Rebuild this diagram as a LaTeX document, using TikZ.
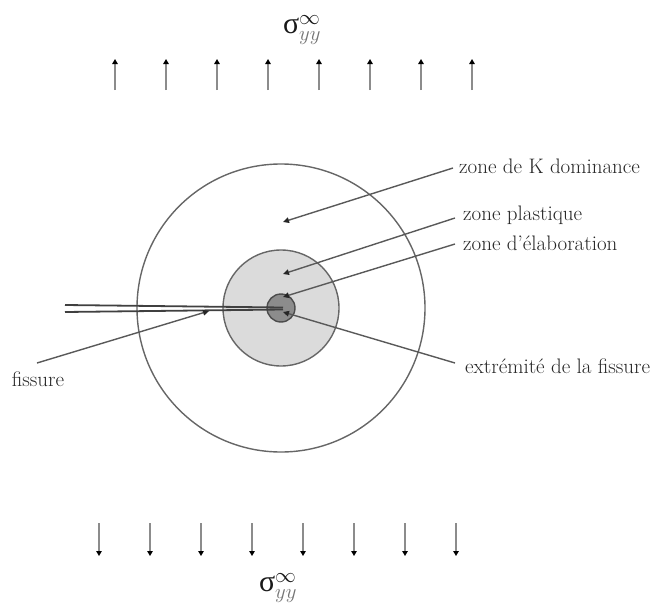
\documentclass[tikz,border=0pt]{standalone}
\usepackage{fontspec}
\newfontfamily\grkfont{Liberation Serif}
\usetikzlibrary{arrows.meta}
\begin{document}
\begin{tikzpicture}[x=1pt,y=-1pt,
  lbl/.style={anchor=west, font=\fontsize{21}{24}\selectfont, text=black!85, inner sep=0pt},
  ptr/.style={draw=black!65, line width=1.4pt, -{Triangle[length=6pt,width=5.5pt,color=black!85]}},
  load/.style={draw=black!45, line width=1.6pt, -{Triangle[length=5pt,width=5.5pt,color=black]}},
  zone/.style={circle, inner sep=0pt, line width=1.4pt},
  crack/.style={draw=black!75, line width=1.8pt},
  sig/.style={text=black!90, inner sep=0pt}]
\useasboundingbox (0,0) rectangle (670,608);
% zones
\node[zone, draw=black!60, minimum size=288pt] (K) at (281,308) {};
\node[zone, draw=black!60, fill=black!14, minimum size=116pt] (P) at (281,308) {};
\node[zone, draw=black!70, fill=black!45, minimum size=28pt] (E) at (281,308) {};
% crack
\coordinate (c1) at (65,305);
\coordinate (c2) at (65,312);
\coordinate (t1) at (283,307.5);
\coordinate (t2) at (283,309.5);
\draw[crack] (c1) -- (t1);
\draw[crack] (c2) -- (t2);
% labels
\node[lbl] (lk) at (459,166) {zone de K dominance};
\node[lbl] (lp) at (463,215) {zone plastique};
\node[lbl] (le) at (463,243) {zone d’élaboration};
\node[lbl] (lx) at (465,366) {extrémité de la fissure};
\node[lbl, anchor=center] (lf) at (38,379) {fissure};
% pointer targets
\coordinate (aK) at (283,222);
\coordinate (aP) at (283,274);
\coordinate (aE) at (283,297);
\coordinate (aX) at (283,312);
\coordinate (aF) at (209,311);
\coordinate (sK) at (453,168);
\coordinate (sP) at (455,218);
\coordinate (sE) at (455,244);
\coordinate (sX) at (455,363);
\coordinate (sF) at (37,363);
\draw[ptr] (sK) -- (aK);
\draw[ptr] (sP) -- (aP);
\draw[ptr] (sE) -- (aE);
\draw[ptr] (sX) -- (aX);
\draw[ptr] (sF) -- (aF);
% loads
\foreach \i/\x in {1/115,2/166,3/217,4/268,5/319,6/370,7/421,8/472}{
  \coordinate (u\i) at (\x,90);
  \coordinate (uh\i) at (\x,59);
  \draw[load] (u\i) -- (uh\i);
}
\foreach \i/\x in {1/99,2/150,3/201,4/252,5/303,6/354,7/405,8/456}{
  \coordinate (d\i) at (\x,523);
  \coordinate (dh\i) at (\x,556);
  \draw[load] (d\i) -- (dh\i);
}
\node[sig] (st) at (302,30) {\fontsize{30}{34}\selectfont\grkfont σ$^{\infty}_{\color{black!55}yy}$};
\node[sig] (sb) at (278,588) {\fontsize{30}{34}\selectfont\grkfont σ$^{\infty}_{\color{black!55}yy}$};
\end{tikzpicture}
\end{document}
